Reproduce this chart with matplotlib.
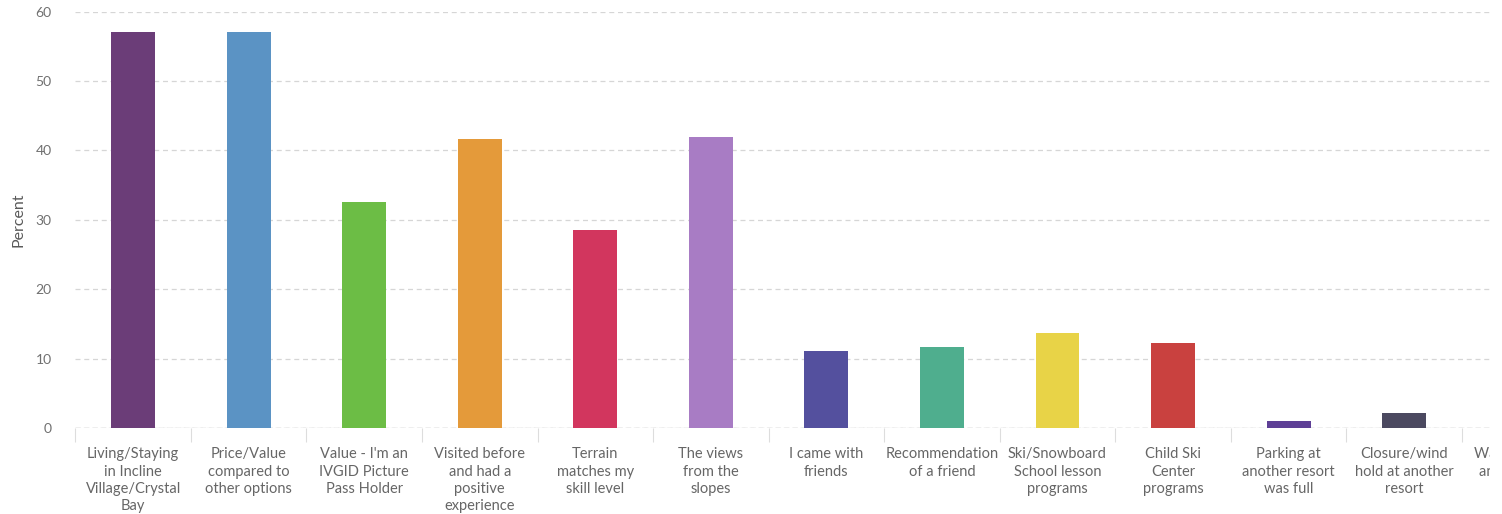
import matplotlib
matplotlib.use("Agg")
import matplotlib.pyplot as plt
from matplotlib.patches import Rectangle
import numpy as np

# Reasons for choosing the resort, share of respondents
categories = [
    "Living/Staying\nin Incline\nVillage/Crystal\nBay",
    "Price/Value\ncompared to\nother options",
    "Value - I'm an\nIVGID Picture\nPass Holder",
    "Visited before\nand had a\npositive\nexperience",
    "Terrain\nmatches my\nskill level",
    "The views\nfrom the\nslopes",
    "I came with\nfriends",
    "Recommendation\nof a friend",
    "Ski/Snowboard\nSchool lesson\nprograms",
    "Child Ski\nCenter\nprograms",
    "Parking at\nanother resort\nwas full",
    "Closure/wind\nhold at another\nresort",
    "Wanted to try\nanother area",
]
percent = [57.1, 57.0, 32.5, 41.7, 28.5, 41.9, 11.1, 11.6, 13.7, 12.3, 1.0, 2.2, 3.0]
bar_colors = [
    "#6b3d78", "#5b93c4", "#6cbd45", "#e49a3a", "#d2365e", "#a87cc4",
    "#54509e", "#4fae8e", "#e8d347", "#c9413f", "#5e3f96", "#4b4960",
    "#3f8fc0",
]
y_ticks = [0, 10, 20, 30, 40, 50, 60]

plt.rcParams["font.family"] = ["Lato", "DejaVu Sans"]

fig = plt.figure(figsize=(15.02, 5.14), dpi=100)
# the plot runs past the right edge of the page, so the last column is cut
ax = fig.add_axes([0.0502, 0.1673, 1.0, 0.8103])

x = np.arange(len(categories))
ax.bar(x, percent, width=0.38, color=bar_colors, zorder=3)

ax.set_xlim(-0.5, len(categories) - 0.5)
ax.set_ylim(0, 60)
ax.set_yticks(y_ticks)
ax.set_yticklabels([str(v) for v in y_ticks], color="#707070", fontsize=10)
ax.tick_params(axis="y", length=0, pad=17)

ax.set_xticks(x)
ax.set_xticklabels(categories, color="#666666", fontsize=10.5, linespacing=1.3)
ax.tick_params(axis="x", which="major", length=0, pad=14)
ax.set_xticks(np.arange(len(categories) + 1) - 0.5, minor=True)
ax.tick_params(axis="x", which="minor", length=10, width=0.8, color="#dddddd",
               direction="out")

ax.set_ylabel("Percent", color="#5a5a5a", fontsize=11.5, labelpad=7)

ax.grid(axis="y", color="#d6d6d6", linestyle=(0, (4, 3)), linewidth=0.9, zorder=0)
ax.axhline(0, color="#c4c4c4", linestyle=(0, (4, 2)), linewidth=1.0, zorder=2)
for side in ["top", "right", "left", "bottom"]:
    ax.spines[side].set_visible(False)

# blank page margin on the right edge
fig.patches.append(Rectangle((1490 / 1502, 0), 12 / 1502, 1, transform=fig.transFigure,
                             facecolor="white", edgecolor="none", zorder=10))

fig.savefig("out.png", dpi=100, facecolor="white")
